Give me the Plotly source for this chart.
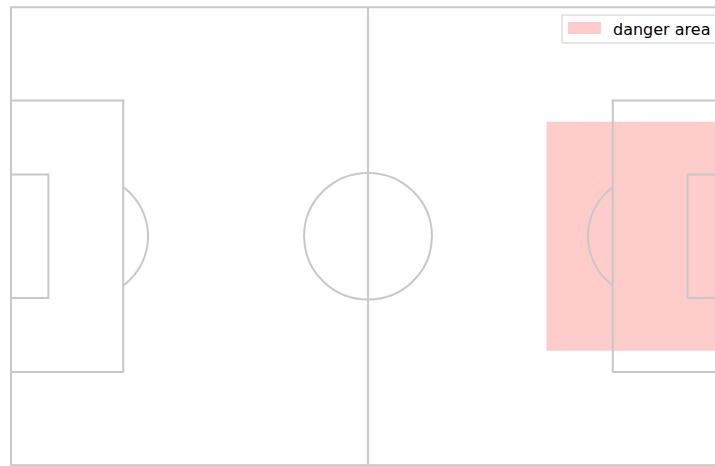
import numpy as np
import plotly.graph_objects as go

# ---- data ----
pitch_length = 105.0
pitch_width = 68.0
penalty_depth = 16.5
penalty_width = 40.32
six_depth = 5.5
six_width = 18.32
centre_radius = 9.4
arc_radius = 9.15
spot_distance = 11.0

danger_label = "danger area"
danger_x = [78.75, 105.0]
danger_y = [17.0, 51.0]

LINE = "#c8c8c8"
PINK = "#ffcccc"
W, H = 715, 466

fig = go.Figure()

# danger area (filled rectangle trace)
fig.add_trace(go.Scatter(
    x=[danger_x[0], danger_x[1], danger_x[1], danger_x[0], danger_x[0]],
    y=[danger_y[0], danger_y[0], danger_y[1], danger_y[1], danger_y[0]],
    fill="toself", fillcolor=PINK, mode="lines", line=dict(width=0, color=PINK),
    name=danger_label, showlegend=False, hoverinfo="skip",
))

shapes = []
def rect(x0, y0, x1, y1):
    shapes.append(dict(type="rect", xref="x", yref="y", x0=x0, y0=y0, x1=x1, y1=y1,
                       line=dict(color=LINE, width=2), fillcolor="rgba(0,0,0,0)", layer="above"))
def line(x0, y0, x1, y1):
    shapes.append(dict(type="line", xref="x", yref="y", x0=x0, y0=y0, x1=x1, y1=y1,
                       line=dict(color=LINE, width=2), layer="above"))

L, Wd = pitch_length, pitch_width
cy = Wd / 2
rect(0, 0, L, Wd)
line(L / 2, 0, L / 2, Wd)
# penalty areas
rect(0, cy - penalty_width / 2, penalty_depth, cy + penalty_width / 2)
rect(L - penalty_depth, cy - penalty_width / 2, L, cy + penalty_width / 2)
# six-yard boxes
rect(0, cy - six_width / 2, six_depth, cy + six_width / 2)
rect(L - six_depth, cy - six_width / 2, L, cy + six_width / 2)
# centre circle
shapes.append(dict(type="circle", xref="x", yref="y",
                   x0=L / 2 - centre_radius, x1=L / 2 + centre_radius,
                   y0=cy - centre_radius, y1=cy + centre_radius,
                   line=dict(color=LINE, width=2), layer="above"))

# penalty arcs
def arc(spot_x, outward):
    dx = penalty_depth - spot_distance
    ang = np.arccos(dx / arc_radius)
    t = np.linspace(-ang, ang, 60)
    xs = spot_x + outward * arc_radius * np.cos(t)
    ys = cy + arc_radius * np.sin(t)
    path = "M " + " L ".join(f"{a},{b}" for a, b in zip(xs, ys))
    shapes.append(dict(type="path", xref="x", yref="y", path=path,
                       line=dict(color=LINE, width=2), layer="above"))
arc(spot_distance, 1)
arc(L - spot_distance, -1)

# manual legend (pixel positions -> paper)
def px(x):
    return x / W
def py(y):
    return 1 - y / H
shapes.append(dict(type="rect", xref="paper", yref="paper",
                   x0=px(562), x1=px(730), y0=py(43), y1=py(15),
                   line=dict(color="#cccccc", width=1), fillcolor="white", layer="above"))
shapes.append(dict(type="rect", xref="paper", yref="paper",
                   x0=px(568), x1=px(601), y0=py(34), y1=py(22),
                   line=dict(width=0), fillcolor=PINK, layer="above"))

fig.add_annotation(x=px(611), y=py(29), xref="paper", yref="paper",
                   text=danger_label, showarrow=False, xanchor="left", yanchor="middle",
                   font=dict(family="DejaVu Sans", size=16, color="black"))

x_per = (368 - 11) / (L / 2)
y_per = (465.3 - 7.3) / Wd
fig.update_layout(
    width=W, height=H, margin=dict(l=0, r=0, t=0, b=0),
    paper_bgcolor="white", plot_bgcolor="white",
    shapes=shapes, showlegend=False,
    xaxis=dict(range=[-11 / x_per, (W - 11) / x_per], visible=False, fixedrange=True),
    yaxis=dict(range=[-(H - 465.3) / y_per, Wd + 7.3 / y_per], visible=False, fixedrange=True),
)
fig.write_html("out.html", config={"displayModeBar": False},
               post_script="document.body.style.margin='0';document.body.style.overflow='hidden';")
